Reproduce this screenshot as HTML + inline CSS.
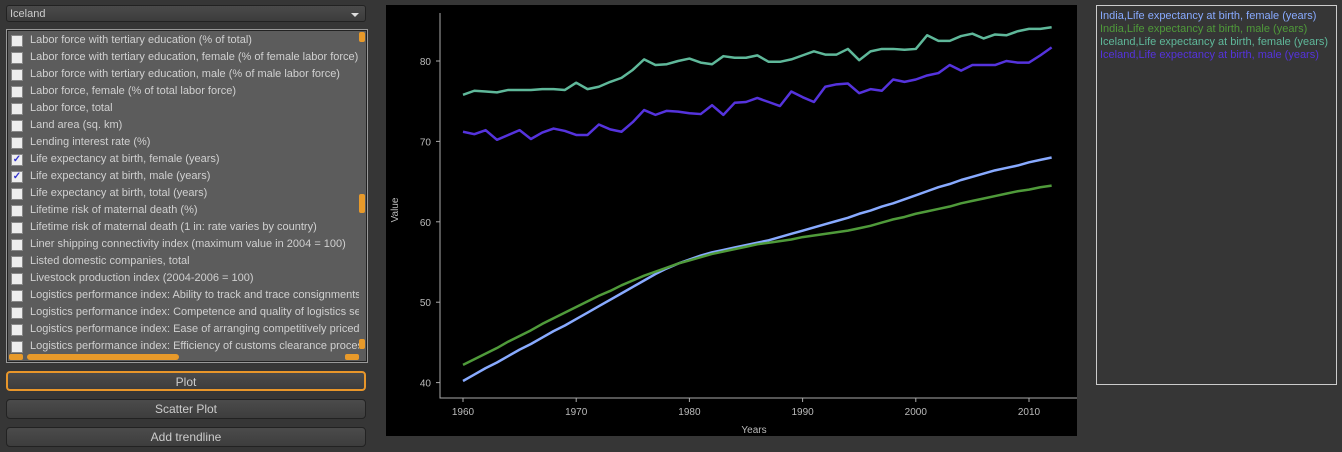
<!DOCTYPE html>
<html><head><meta charset="utf-8"><style>
body{margin:0;width:1342px;height:452px;background:#363636;font-family:"Liberation Sans",sans-serif;overflow:hidden;position:relative;color:#ddd}
.combo{position:absolute;left:6px;top:5px;width:360px;height:17px;background:linear-gradient(#4a4a4a,#3c3c3c);border:1px solid #222;border-radius:3px;font-size:11px;line-height:17px;color:#ccc;padding-left:3px;box-sizing:border-box}
.combo:after{content:"";position:absolute;right:6px;top:7px;border:4px solid transparent;border-top:4px solid #ddd}
.list{position:absolute;left:6px;top:29px;width:362px;height:334px;background:#5c5c5c;border:1px solid #999;box-shadow:inset 0 0 0 1px #222;box-sizing:border-box;overflow:hidden}
.row{position:absolute;left:4px;height:17px;font-size:11px;line-height:17px;color:#d0d0d0;white-space:nowrap;width:348px;overflow:hidden;display:flex;align-items:center}
.cb{flex:none;display:flex;align-items:center;justify-content:center;width:10px;height:10px;background:#eee;border:1px solid #888;margin-right:7px;font-size:10px;color:#33c;font-weight:bold;overflow:hidden}
.vs{position:absolute;right:2px;top:2px;width:6px;height:317px}
.hs{position:absolute;left:2px;bottom:2px;height:6px;width:350px}
.btn{position:absolute;left:6px;width:360px;height:20px;border-radius:4px;background:linear-gradient(#4b4b4b,#3d3d3d);border:1px solid #222;box-sizing:border-box;text-align:center;font-size:12px;line-height:18px;color:#ccc}
.legend{position:absolute;left:1096px;top:5px;width:241px;height:380px;border:1px solid #ccc;box-sizing:border-box;background:#363636;font-size:11px;line-height:13px;padding:4px 3px}
</style></head><body>
<div class="combo">Iceland</div>
<div class="list" id="list">
<div class="vs">
<div style="position:absolute;top:0;width:6px;height:10px;background:#e89a2a;border-radius:2px"></div>
<div style="position:absolute;top:162px;width:6px;height:19px;background:#e89a2a;border-radius:2px"></div>
<div style="position:absolute;bottom:0;width:6px;height:10px;background:#e89a2a;border-radius:2px"></div></div>
<div class="hs">
<div style="position:absolute;left:0;width:14px;height:6px;background:#e89a2a;border-radius:2px"></div>
<div style="position:absolute;left:18px;width:152px;height:6px;background:#e89a2a;border-radius:3px"></div>
<div style="position:absolute;right:0;width:14px;height:6px;background:#e89a2a;border-radius:2px"></div></div>
</div>
<div class="btn" style="top:371px;border:2px solid #e8962a">Plot</div>
<div class="btn" style="top:399px">Scatter Plot</div>
<div class="btn" style="top:427px">Add trendline</div>

<svg id="chart" style="position:absolute;left:386px;top:5px" width="691" height="431"></svg>

<div class="legend">
<div style="color:#88aaff">India,Life expectancy at birth, female (years)</div>
<div style="color:#4f9a3a">India,Life expectancy at birth, male (years)</div>
<div style="color:#5fb89a">Iceland,Life expectancy at birth, female (years)</div>
<div style="color:#5533dd">Iceland,Life expectancy at birth, male (years)</div>
</div>
<script>
const items=["Labor force with tertiary education (% of total)","Labor force with tertiary education, female (% of female labor force)","Labor force with tertiary education, male (% of male labor force)","Labor force, female (% of total labor force)","Labor force, total","Land area (sq. km)","Lending interest rate (%)","Life expectancy at birth, female (years)","Life expectancy at birth, male (years)","Life expectancy at birth, total (years)","Lifetime risk of maternal death (%)","Lifetime risk of maternal death (1 in: rate varies by country)","Liner shipping connectivity index (maximum value in 2004 = 100)","Listed domestic companies, total","Livestock production index (2004-2006 = 100)","Logistics performance index: Ability to track and trace consignments","Logistics performance index: Competence and quality of logistics services","Logistics performance index: Ease of arranging competitively priced shipments","Logistics performance index: Efficiency of customs clearance process"];
const checked=[7,8];
const list=document.getElementById('list');
items.forEach((t,i)=>{const r=document.createElement('div');r.className='row';r.style.top=(2+i*17)+'px';


r.innerHTML='<span class="cb">'+(checked.includes(i)?'✓':'')+'</span><span>'+t+'</span>';list.appendChild(r);});

const years=[];for(let y=1960;y<=2012;y++)years.push(y);
const indiaFemale=[40.2,41.0,41.8,42.5,43.3,44.1,44.8,45.6,46.4,47.1,47.9,48.7,49.5,50.3,51.1,51.9,52.7,53.5,54.2,54.8,55.3,55.8,56.2,56.5,56.8,57.1,57.4,57.7,58.1,58.5,58.9,59.3,59.7,60.1,60.5,61.0,61.4,61.9,62.3,62.8,63.3,63.8,64.3,64.7,65.2,65.6,66.0,66.4,66.7,67.0,67.4,67.7,68.0];
const indiaMale=[42.2,42.9,43.6,44.3,45.1,45.8,46.5,47.3,48.0,48.7,49.4,50.1,50.8,51.4,52.1,52.7,53.3,53.8,54.3,54.8,55.2,55.6,56.0,56.3,56.6,56.9,57.2,57.4,57.6,57.8,58.1,58.3,58.5,58.7,58.9,59.2,59.5,59.9,60.3,60.6,61.0,61.3,61.6,61.9,62.3,62.6,62.9,63.2,63.5,63.8,64.0,64.3,64.5];
const icelandFemale=[75.8,76.3,76.2,76.1,76.4,76.4,76.4,76.5,76.5,76.4,77.3,76.5,76.8,77.4,77.9,78.9,80.2,79.5,79.6,80.0,80.3,79.8,79.6,80.6,80.4,80.4,80.7,79.9,79.9,80.2,80.7,81.2,80.8,80.8,81.5,80.1,81.2,81.5,81.5,81.4,81.5,83.2,82.5,82.5,83.1,83.4,82.8,83.3,83.2,83.7,84.0,84.0,84.2];
const icelandMale=[71.2,70.9,71.4,70.2,70.8,71.4,70.3,71.1,71.6,71.3,70.8,70.8,72.1,71.5,71.2,72.4,73.9,73.3,73.8,73.7,73.5,73.4,74.5,73.3,74.8,74.9,75.4,74.9,74.4,76.2,75.5,74.9,76.8,77.1,77.2,76.0,76.5,76.3,77.7,77.4,77.7,78.2,78.5,79.5,78.8,79.5,79.5,79.5,80.0,79.8,79.8,80.7,81.7];
const xTicks=[1960,1970,1980,1990,2000,2010];
const yTicks=[40,50,60,70,80];
const svg=document.getElementById('chart');const NS='http://www.w3.org/2000/svg';
function el(tag,a,txt){const e=document.createElementNS(NS,tag);for(const k in a)e.setAttribute(k,a[k]);if(txt!=null)e.textContent=txt;svg.appendChild(e);return e;}
const x=v=>77+(v-1960)*11.32;
const y=v=>56+(80-v)*8.04;
let b=el('rect',{x:0,y:0,width:691,height:431,fill:'#000'});


let ax=el('path',{d:'M54 8V393H691',stroke:'#aaa',fill:'none','stroke-width':1});


xTicks.forEach(t=>{el('line',{x1:x(t),x2:x(t),y1:393,y2:397,stroke:'#aaa'});
let tx=el('text',{x:x(t),y:410,fill:'#bbb','font-size':10,'text-anchor':'middle'},t);

});
yTicks.forEach(t=>{el('line',{x1:50,x2:54,y1:y(t),y2:y(t),stroke:'#aaa'});
let ty=el('text',{x:45,y:y(t)+4,fill:'#bbb','font-size':10,'text-anchor':'end'},t);

});
let xt=el('text',{x:368,y:428,fill:'#bbb','font-size':10,'text-anchor':'middle'},'Years');


let yt=el('text',{x:12,y:205,fill:'#bbb','font-size':10,'text-anchor':'middle',transform:'rotate(-90 12 205)'},'Value');


const series=[[indiaFemale,'#88aaff','india-female-line'],[indiaMale,'#4f9a3a','india-male-line'],[icelandFemale,'#5fb89a','iceland-female-line'],[icelandMale,'#5533dd','iceland-male-line']];
series.forEach(([d,c,n])=>{const p=el('polyline',{points:d.map((v,i)=>x(years[i])+','+y(v)).join(' '),fill:'none',stroke:c,'stroke-width':2.5,'stroke-linejoin':'round'});

});
</script>
</body></html>
